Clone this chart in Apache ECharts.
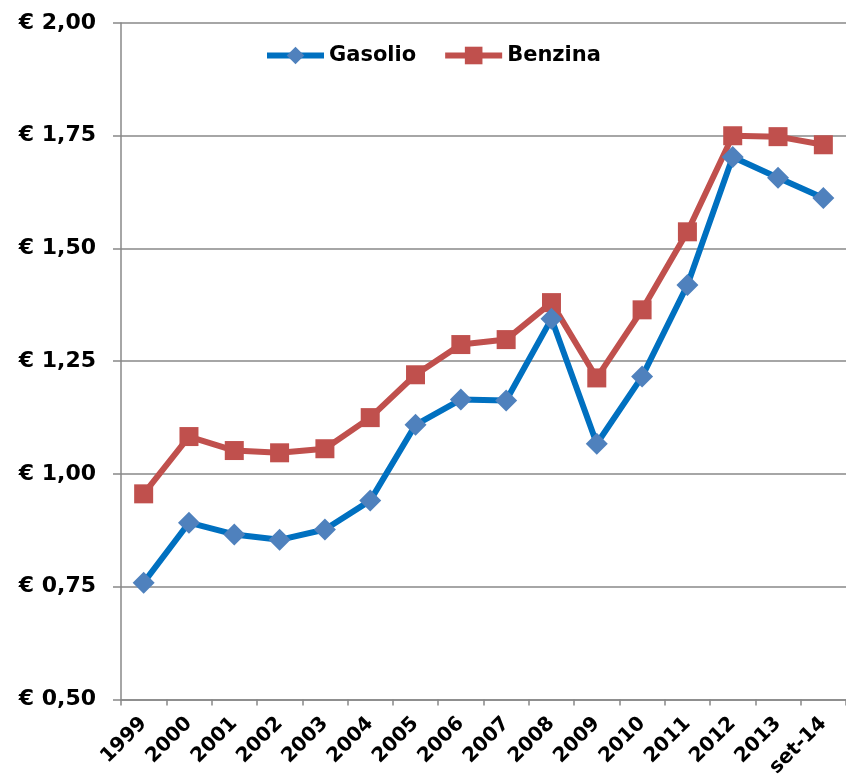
<!DOCTYPE html>
<html>
<head>
<meta charset="UTF-8">
<title>Gasolio / Benzina</title>
<script src="https://cdn.jsdelivr.net/npm/echarts@6/dist/echarts.min.js"></script>
<style>
body { margin: 0; background: #fff; }
#main { width: 846px; height: 780px; }
</style>
</head>
<body>
<div id="main"></div>
<script>
// dati
var anni = ['1999', '2000', '2001', '2002', '2003', '2004', '2005', '2006',
	'2007', '2008', '2009', '2010', '2011', '2012', '2013', 'set-14'];
var gasolio = [0.759, 0.892, 0.866, 0.854, 0.877, 0.941, 1.109, 1.165,
	1.163, 1.344, 1.067, 1.216, 1.419, 1.703, 1.657, 1.612];
var benzina = [0.956, 1.083, 1.052, 1.047, 1.056, 1.125, 1.220, 1.287,
	1.298, 1.380, 1.213, 1.364, 1.537, 1.750, 1.748, 1.730];

var font = 'DejaVu Sans';
var grigio = '#888888';

var myChart = echarts.init(document.getElementById('main'));
var option = {
	animation : false,
	textStyle : { fontFamily : font },
	legend : {
		top : 40,
		left : 259,
		itemWidth : 57,
		itemHeight : 22,
		itemGap : 26,
		lineStyle : { width : 6 },
		textStyle : { fontFamily : font, fontWeight : 'bold', fontSize : 21, color : '#000' },
		data : ['Gasolio', 'Benzina']
	},
	grid : {
		left : 121,
		right : -3,
		top : 23,
		bottom : 80
	},
	xAxis : {
		type : 'category',
		boundaryGap : true,
		data : anni,
		axisLine : { lineStyle : { color : grigio, width : 1.5 } },
		axisTick : { show : true, interval : 0, length : 6, lineStyle : { color : grigio, width : 1.5 } },
		axisLabel : {
			interval : 0,
			rotate : 45,
			margin : 21,
			fontFamily : font,
			fontWeight : 'bold',
			fontSize : 20,
			color : '#000'
		}
	},
	yAxis : {
		type : 'value',
		min : 0.5,
		max : 2,
		interval : 0.25,
		axisLine : { show : true, lineStyle : { color : grigio, width : 1.5 } },
		axisTick : { show : true, inside : false, length : 8, lineStyle : { color : grigio, width : 1.5 } },
		splitLine : { lineStyle : { color : grigio, width : 1.5 } },
		axisLabel : {
			margin : 25,
			fontFamily : font,
			fontWeight : 'bold',
			fontSize : 22,
			color : '#000',
			formatter : function(v) {
				return '\u20ac ' + v.toFixed(2).replace('.', ',');
			}
		}
	},
	series : [ {
		name : 'Gasolio',
		type : 'line',
		data : gasolio,
		symbol : 'diamond',
		symbolSize : 22,
		lineStyle : { color : '#0070C0', width : 6 },
		itemStyle : { color : '#4F81BD' },
		z : 3
	}, {
		name : 'Benzina',
		type : 'line',
		data : benzina,
		symbol : 'rect',
		symbolSize : 19,
		lineStyle : { color : '#C0504D', width : 6 },
		itemStyle : { color : '#C0504D' },
		z : 2
	} ]
};
myChart.setOption(option);
</script>
</body>
</html>
